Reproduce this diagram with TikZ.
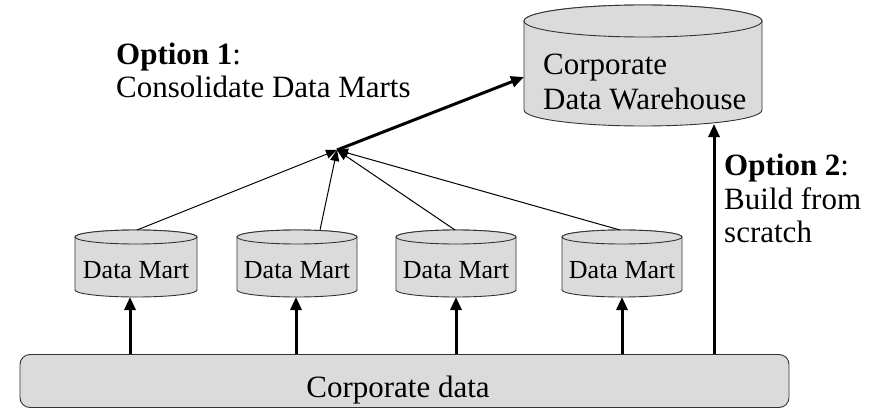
\documentclass[tikz,border=0pt]{standalone}
\usepackage{fontspec}
\setmainfont{Liberation Serif}
\usetikzlibrary{arrows.meta}

% cylinder drum: #1 centre x, #2 top-ellipse y, #3 bottom-ellipse y, #4 x radius, #5 y radius
\newcommand\drumshape[5]{%
  \filldraw[drum] (#1-#4,#2) -- (#1-#4,#3)
    arc[start angle=180,end angle=360,x radius=#4pt,y radius=#5pt]
    -- (#1+#4,#2)
    arc[start angle=0,end angle=180,x radius=#4pt,y radius=#5pt] -- cycle;
  \draw[drum] (#1,#2) ellipse[x radius=#4pt,y radius=#5pt];
}

\begin{document}
\begin{tikzpicture}[x=1pt,y=-1pt,
  drum/.style={fill=black!14,draw=black!80,line width=0.9pt},
  base box/.style={rectangle,rounded corners=10pt,fill=black!14,draw=black!80,
    line width=0.9pt,minimum width=769pt,minimum height=53pt,inner sep=0pt},
  bigtext/.style={font=\fontsize{31pt}{34pt}\selectfont,inner sep=0pt},
  smalltext/.style={font=\fontsize{26pt}{30pt}\selectfont,inner sep=0pt},
  feed/.style={line width=3pt,-{Triangle[length=13pt,width=11pt]}},
  merge/.style={line width=1pt,-{Triangle[length=11pt,width=9pt]}}]

\useasboundingbox (0,0) rectangle (880,409);

% shared source data
\node[base box] (cd) at (404.5,381) {};
\node[bigtext,anchor=base] (cdlabel) at (398,397) {Corporate data};

% data marts
\drumshape{136}{237}{290}{61}{7}
\drumshape{297}{237}{290}{60}{7}
\drumshape{456}{237}{290}{60}{7}
\drumshape{622}{237}{290}{60}{7}
\node[smalltext,anchor=base] (dm1) at (136,278) {Data Mart};
\node[smalltext,anchor=base] (dm2) at (297,278) {Data Mart};
\node[smalltext,anchor=base] (dm3) at (456,278) {Data Mart};
\node[smalltext,anchor=base] (dm4) at (622,278) {Data Mart};

% warehouse
\drumshape{643}{21}{110}{119}{16}
\node[bigtext,anchor=base west] (dwa) at (543,75) {Corporate};
\node[bigtext,anchor=base west] (dwb) at (543,110) {Data Warehouse};

% attachment points on the drums
\coordinate (dm1b) at (130,297);
\coordinate (dm2b) at (296,297);
\coordinate (dm3b) at (456,297);
\coordinate (dm4b) at (622,297);
\coordinate (dm1t) at (137,230);
\coordinate (dm2t) at (320,230);
\coordinate (dm3t) at (455,230);
\coordinate (dm4t) at (620,230);
\coordinate (hub) at (337,150);
\coordinate (dwleft) at (524,77);
\coordinate (dwbot) at (714,124);

% loading the marts from the corporate data
\draw[feed] (cd.north -| dm1b) -- (dm1b);
\draw[feed] (cd.north -| dm2b) -- (dm2b);
\draw[feed] (cd.north -| dm3b) -- (dm3b);
\draw[feed] (cd.north -| dm4b) -- (dm4b);

% option 1: consolidate
\draw[merge] (dm1t) -- (hub);
\draw[merge] (dm2t) -- (hub);
\draw[merge] (dm3t) -- (hub);
\draw[merge] (dm4t) -- (hub);
\draw[feed] (hub) -- (dwleft);

% option 2: build directly
\draw[feed] (cd.north -| dwbot) -- (dwbot);

% labels
\node[bigtext,anchor=base west] (o1a) at (116,65) {\textbf{Option 1}:};
\node[bigtext,anchor=base west] (o1b) at (116,98) {Consolidate Data Marts};
\node[bigtext,anchor=base west] (o2a) at (724,175) {\textbf{Option 2}:};
\node[bigtext,anchor=base west] (o2b) at (724,209) {Build from};
\node[bigtext,anchor=base west] (o2c) at (724,242) {scratch};
\end{tikzpicture}
\end{document}
